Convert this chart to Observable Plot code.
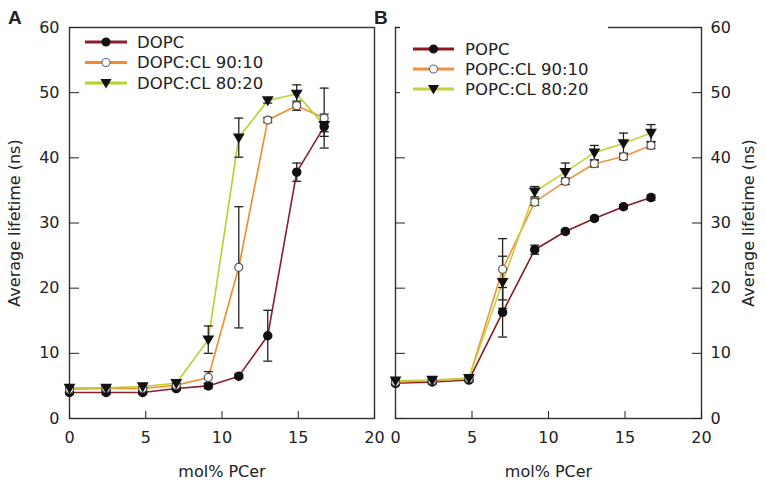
<!DOCTYPE html>
<html><head><meta charset="utf-8">
<script src="https://cdn.jsdelivr.net/npm/d3@7"></script>
<script src="https://cdn.jsdelivr.net/npm/@observablehq/plot@0.6"></script>
<style>
body{margin:0;background:#fff;}
#wrap{position:relative;width:766px;height:482px;overflow:hidden;font-family:"DejaVu Sans",sans-serif;color:#222;}
.panel{position:absolute;top:0;}
.plabel{position:absolute;font-weight:bold;font-size:19px;line-height:1;font-family:"Liberation Sans",Arial,sans-serif;}
svg.legend{position:absolute;top:0;left:0;overflow:visible;}
</style></head><body><div id="wrap"></div>
<script>
// ---- data ----
const molPCer = [0, 2.4, 4.8, 7.0, 9.1, 11.1, 13.0, 14.9, 16.7];
const xTicks = [0, 5, 10, 15, 20];
const yTicks = [0, 10, 20, 30, 40, 50, 60];

const namesA = ["DOPC", "DOPC:CL 90:10", "DOPC:CL 80:20"];
const dopc      = [4.0, 4.0, 4.0, 4.6, 5.0, 6.5, 12.7, 37.8, 44.8];
const dopcErr   = [0.3, 0.3, 0.3, 0.3, 0.4, 0.3, 3.9, 1.4, 0.8];
const dopc9010  = [4.5, 4.6, 4.6, 5.1, 6.3, 23.2, 45.8, 48.0, 46.1];
const dopc9010Err = [0.3, 0.3, 0.3, 0.3, 0.9, 9.3, 0.4, 0.7, 4.6];
const dopc8020  = [4.7, 4.7, 4.9, 5.4, 12.1, 43.1, 48.8, 49.8, 45.0];
const dopc8020Err = [0.3, 0.3, 0.3, 0.4, 2.1, 3.0, 0.4, 1.4, 1.7];

const namesB = ["POPC", "POPC:CL 90:10", "POPC:CL 80:20"];
const popc      = [5.4, 5.6, 5.9, 16.3, 25.9, 28.7, 30.7, 32.5, 33.9];
const popcErr   = [0.3, 0.3, 0.3, 3.8, 0.7, 0.3, 0.3, 0.3, 0.4];
const popc9010  = [5.6, 5.8, 6.1, 22.9, 33.2, 36.4, 39.1, 40.2, 41.9];
const popc9010Err = [0.3, 0.3, 0.3, 4.7, 0.5, 0.5, 0.5, 0.5, 0.5];
const popc8020  = [5.8, 5.9, 6.2, 20.9, 34.8, 37.8, 40.8, 42.2, 43.8];
const popc8020Err = [0.3, 0.3, 0.3, 4.0, 0.8, 1.4, 1.1, 1.6, 1.3];

const colorsA = ["#8b1d2c", "#f58a2a", "#b9cf2a"];
const colorsB = ["#8b1a1e", "#ee9440", "#c6d03c"];

// ---- helpers ----
function tidy(names, vals, errs) {
  const rows = [];
  names.forEach((n, k) => molPCer.forEach((x, i) => rows.push({
    series: n, x, y: vals[k][i], lo: vals[k][i] - errs[k][i], hi: vals[k][i] + errs[k][i]
  })));
  return rows;
}
const downTriangle = {draw(ctx, size) {
  const r = Math.sqrt(size / Math.PI) * 1.15;
  ctx.moveTo(-r, -r * 0.75); ctx.lineTo(r, -r * 0.75); ctx.lineTo(0, r * 0.95); ctx.closePath();
}};
const capSymbol = {draw(ctx, size) {
  const w = Math.sqrt(size / Math.PI);
  ctx.moveTo(-w, 0); ctx.lineTo(w, 0);
}};

const FONT = "'DejaVu Sans', sans-serif";
function panel(rows, names, colors, opts) {
  const marks = [
    Plot.frame({stroke: "#333", strokeWidth: 1.4}),
    Plot.axisX({ticks: xTicks, tickSize: -7, tickPadding: 20, label: "mol% PCer",
      labelAnchor: "center", labelArrow: "none", labelOffset: 58})
  ];
  if (opts.side === "left") {
    marks.push(Plot.axisY({anchor: "left", ticks: yTicks, tickSize: -10, tickPadding: 20,
      label: "Average lifetime (ns)", labelAnchor: "center", labelArrow: "none", labelOffset: 61}));
  } else {
    marks.push(Plot.axisY({anchor: "left", ticks: yTicks, tickSize: -10, tickFormat: () => "", label: null}));
    marks.push(Plot.axisY({anchor: "right", ticks: yTicks, tickSize: -10, tickPadding: 19,
      label: "Average lifetime (ns)", labelAnchor: "center", labelArrow: "none", labelOffset: 52}));
  }
  marks.push(
    Plot.line(rows, {x: "x", y: "y", z: "series", stroke: "series", strokeWidth: 1.6}),
    Plot.ruleX(rows, {x: "x", y1: "lo", y2: "hi", stroke: "#222", strokeWidth: 1.3}),
    Plot.dot(rows, {x: "x", y: "lo", symbol: capSymbol, r: 4.5, stroke: "#222", strokeWidth: 1.3}),
    Plot.dot(rows, {x: "x", y: "hi", symbol: capSymbol, r: 4.5, stroke: "#222", strokeWidth: 1.3}),
    Plot.dot(rows.filter(d => d.series === names[0]), {x: "x", y: "y", r: 4, fill: "#111", stroke: "#111"}),
    Plot.dot(rows.filter(d => d.series === names[1]), {x: "x", y: "y", r: 4, fill: "white", stroke: "#555", strokeWidth: 1.2}),
    Plot.dot(rows.filter(d => d.series === names[2]), {x: "x", y: "y", symbol: downTriangle, r: 4, fill: "#111", stroke: "#111"})
  );
  return Plot.plot({
    width: opts.width, height: 482,
    marginLeft: opts.ml, marginRight: opts.mr, marginTop: 27, marginBottom: 64,
    x: {domain: [0, 20]},
    y: {domain: [0, 60]},
    color: {domain: names, range: colors},
    style: {fontFamily: FONT, fontSize: "16px", color: "#222", background: "white"},
    marks
  });
}

function legend(parent, names, colors, o) {
  const svg = d3.select(parent).append("svg").attr("class", "legend")
    .attr("width", 766).attr("height", 482);
  if (o.bg) svg.append("rect").attr("x", o.bg[0]).attr("y", o.bg[1]).attr("width", o.bg[2]).attr("height", o.bg[3]).attr("fill", "white");
  const syms = [
    {type: d3.symbolCircle, fill: "#111", stroke: "#111"},
    {type: d3.symbolCircle, fill: "white", stroke: "#667"},
    {type: downTriangle, fill: "#111", stroke: "#111"}
  ];
  names.forEach((n, i) => {
    const y = o.y0 + i * o.dy;
    svg.append("line").attr("x1", o.x1).attr("x2", o.x2).attr("y1", y).attr("y2", y)
      .attr("stroke", colors[i]).attr("stroke-width", 3);
    svg.append("path").attr("transform", `translate(${(o.x1 + o.x2) / 2},${y})`)
      .attr("d", d3.symbol().type(syms[i].type).size(16 * Math.PI)())
      .attr("fill", syms[i].fill).attr("stroke", syms[i].stroke).attr("stroke-width", 1.1);
    svg.append("text").attr("x", o.tx).attr("y", y).attr("dy", "0.36em")
      .attr("font-family", FONT).attr("font-size", 16.5).attr("fill", "#222").text(n);
  });
}

const wrap = document.getElementById("wrap");
const pA = panel(tidy(namesA, [dopc, dopc9010, dopc8020], [dopcErr, dopc9010Err, dopc8020Err]), namesA, colorsA,
  {side: "left", width: 385, ml: 69, mr: 11});
pA.classList.add("panel"); pA.style.left = "0px"; wrap.appendChild(pA);
const pB = panel(tidy(namesB, [popc, popc9010, popc8020], [popcErr, popc9010Err, popc8020Err]), namesB, colorsB,
  {side: "right", width: 381, ml: 10, mr: 65});
pB.classList.add("panel"); pB.style.left = "385px"; wrap.appendChild(pB);

legend(wrap, namesA, colorsA, {x1: 85, x2: 127, tx: 137, y0: 42, dy: 20.5});
legend(wrap, namesB, colorsB, {x1: 413, x2: 454, tx: 465, y0: 49, dy: 20, bg: [400, 20, 208, 82]});

const la = document.createElement("div"); la.className = "plabel"; la.textContent = "A";
la.style.left = "8px"; la.style.top = "8px"; wrap.appendChild(la);
const lb = document.createElement("div"); lb.className = "plabel"; lb.textContent = "B";
lb.style.left = "374px"; lb.style.top = "8px"; wrap.appendChild(lb);
</script></body></html>
